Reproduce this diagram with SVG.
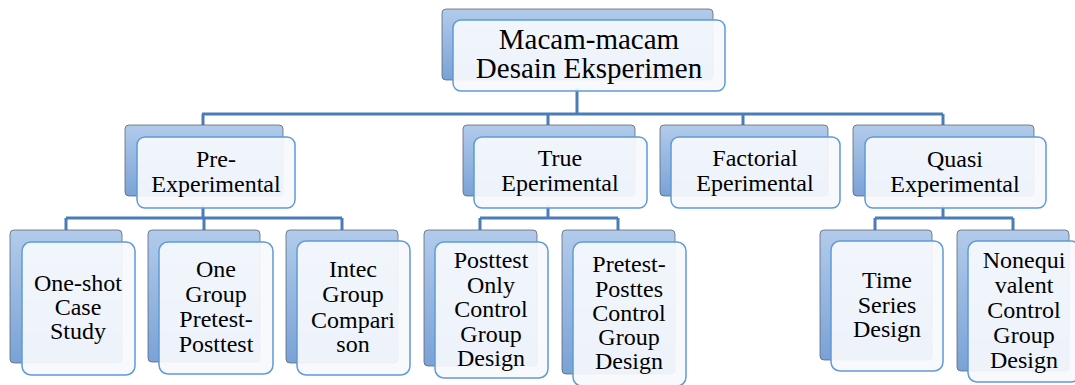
<svg xmlns="http://www.w3.org/2000/svg" width="1075" height="385" viewBox="0 0 1075 385">
  <defs>
    <linearGradient id="backGrad" x1="0" y1="0" x2="0" y2="1">
      <stop offset="0" stop-color="#b2cbeb"/>
      <stop offset="1" stop-color="#7aa2d6"/>
    </linearGradient>
    <style>
      .back { fill: url(#backGrad); stroke: #5f6770; stroke-width: 1; stroke-opacity: 0.8; }
      .front { fill: #f6f9fd; fill-opacity: 0.93; stroke: #5f9bd6; stroke-width: 1.5; }
      .conn { fill: none; stroke: #4a7db8; stroke-width: 3; }
      .lbl { font-family: 'Liberation Serif', 'Times New Roman', serif; fill: #000; text-anchor: middle; }
      .t1 { font-size: 29px; }
      .t2 { font-size: 24px; }
      .t3 { font-size: 24px; }
    </style>
  </defs>

  <g id="connectors">
    <path class="conn" d="M577,88 V114 M202,114 H943 M203,114 V126 M548,114 V126 M743,114 V126 M943,114 V126"/>
    <path class="conn" d="M203,205 V218 M66,218 H342 M66,218 V231 M204,218 V231 M342,218 V231"/>
    <path class="conn" d="M548,205 V218 M480,218 H618 M480,218 V231 M618,218 V231"/>
    <path class="conn" d="M943,205 V218 M875,218 H1013 M875,218 V231 M1013,218 V231"/>
  </g>

  <g id="root">
    <rect class="back" x="442" y="9" width="271" height="71" rx="4"/>
    <rect class="front" x="453" y="20" width="272" height="71" rx="8"/>
    <text class="lbl t1"><tspan x="589" y="49">Macam-macam</tspan><tspan x="589" y="78">Desain Eksperimen</tspan></text>
  </g>

  <g id="pre-experimental">
    <rect class="back" x="125" y="125" width="158" height="71" rx="4"/>
    <rect class="front" x="137" y="137" width="158" height="71" rx="8"/>
    <text class="lbl t2"><tspan x="216" y="167">Pre-</tspan><tspan x="216" y="192">Experimental</tspan></text>
  </g>

  <g id="true-experimental">
    <rect class="back" x="463" y="125" width="172" height="71" rx="4"/>
    <rect class="front" x="474" y="137" width="173" height="71" rx="8"/>
    <text class="lbl t2"><tspan x="560" y="166">True</tspan><tspan x="560" y="191">Eperimental</tspan></text>
  </g>

  <g id="factorial-experimental">
    <rect class="back" x="660" y="125" width="168" height="71" rx="4"/>
    <rect class="front" x="671" y="137" width="169" height="71" rx="8"/>
    <text class="lbl t2"><tspan x="755" y="166">Factorial</tspan><tspan x="755" y="191">Eperimental</tspan></text>
  </g>

  <g id="quasi-experimental">
    <rect class="back" x="853" y="125" width="181" height="71" rx="4"/>
    <rect class="front" x="865" y="137" width="181" height="71" rx="8"/>
    <text class="lbl t2"><tspan x="955" y="167">Quasi</tspan><tspan x="955" y="192">Experimental</tspan></text>
  </g>

  <g id="one-shot">
    <rect class="back" x="10" y="230" width="112" height="133" rx="4"/>
    <rect class="front" x="22" y="242" width="113" height="133" rx="9"/>
    <text class="lbl t3"><tspan x="78" y="291">One-shot</tspan><tspan x="78" y="315">Case</tspan><tspan x="78" y="339">Study</tspan></text>
  </g>

  <g id="one-group">
    <rect class="back" x="148" y="230" width="112" height="132" rx="4"/>
    <rect class="front" x="159" y="242" width="114" height="132" rx="9"/>
    <text class="lbl t3"><tspan x="216" y="277">One</tspan><tspan x="216" y="302">Group</tspan><tspan x="216" y="327">Pretest-</tspan><tspan x="216" y="352">Posttest</tspan></text>
  </g>

  <g id="intec-group">
    <rect class="back" x="286" y="230" width="112" height="133" rx="4"/>
    <rect class="front" x="297" y="241" width="113" height="134" rx="9"/>
    <text class="lbl t3"><tspan x="353" y="277">Intec</tspan><tspan x="353" y="302">Group</tspan><tspan x="353" y="328">Compari</tspan><tspan x="353" y="352">son</tspan></text>
  </g>

  <g id="posttest-only">
    <rect class="back" x="424" y="230" width="113" height="136" rx="4"/>
    <rect class="front" x="435" y="242" width="113" height="136" rx="9"/>
    <text class="lbl t3"><tspan x="491" y="268">Posttest</tspan><tspan x="491" y="293">Only</tspan><tspan x="491" y="317">Control</tspan><tspan x="491" y="342">Group</tspan><tspan x="491" y="366">Design</tspan></text>
  </g>

  <g id="pretest-posttest">
    <rect class="back" x="562" y="230" width="113" height="144" rx="4"/>
    <rect class="front" x="573" y="242" width="113" height="144" rx="9"/>
    <text class="lbl t3"><tspan x="629" y="272">Pretest-</tspan><tspan x="629" y="297">Posttes</tspan><tspan x="629" y="321">Control</tspan><tspan x="629" y="345">Group</tspan><tspan x="629" y="369">Design</tspan></text>
  </g>

  <g id="time-series">
    <rect class="back" x="820" y="230" width="112" height="130" rx="4"/>
    <rect class="front" x="831" y="241" width="112" height="130" rx="9"/>
    <text class="lbl t3"><tspan x="887" y="288">Time</tspan><tspan x="887" y="313">Series</tspan><tspan x="887" y="337">Design</tspan></text>
  </g>

  <g id="nonequivalent">
    <rect class="back" x="957" y="230" width="112" height="141" rx="4"/>
    <rect class="front" x="968" y="241" width="112" height="141" rx="9"/>
    <text class="lbl t3"><tspan x="1024" y="268">Nonequi</tspan><tspan x="1024" y="293">valent</tspan><tspan x="1024" y="318">Control</tspan><tspan x="1024" y="343">Group</tspan><tspan x="1024" y="368">Design</tspan></text>
  </g>
</svg>
